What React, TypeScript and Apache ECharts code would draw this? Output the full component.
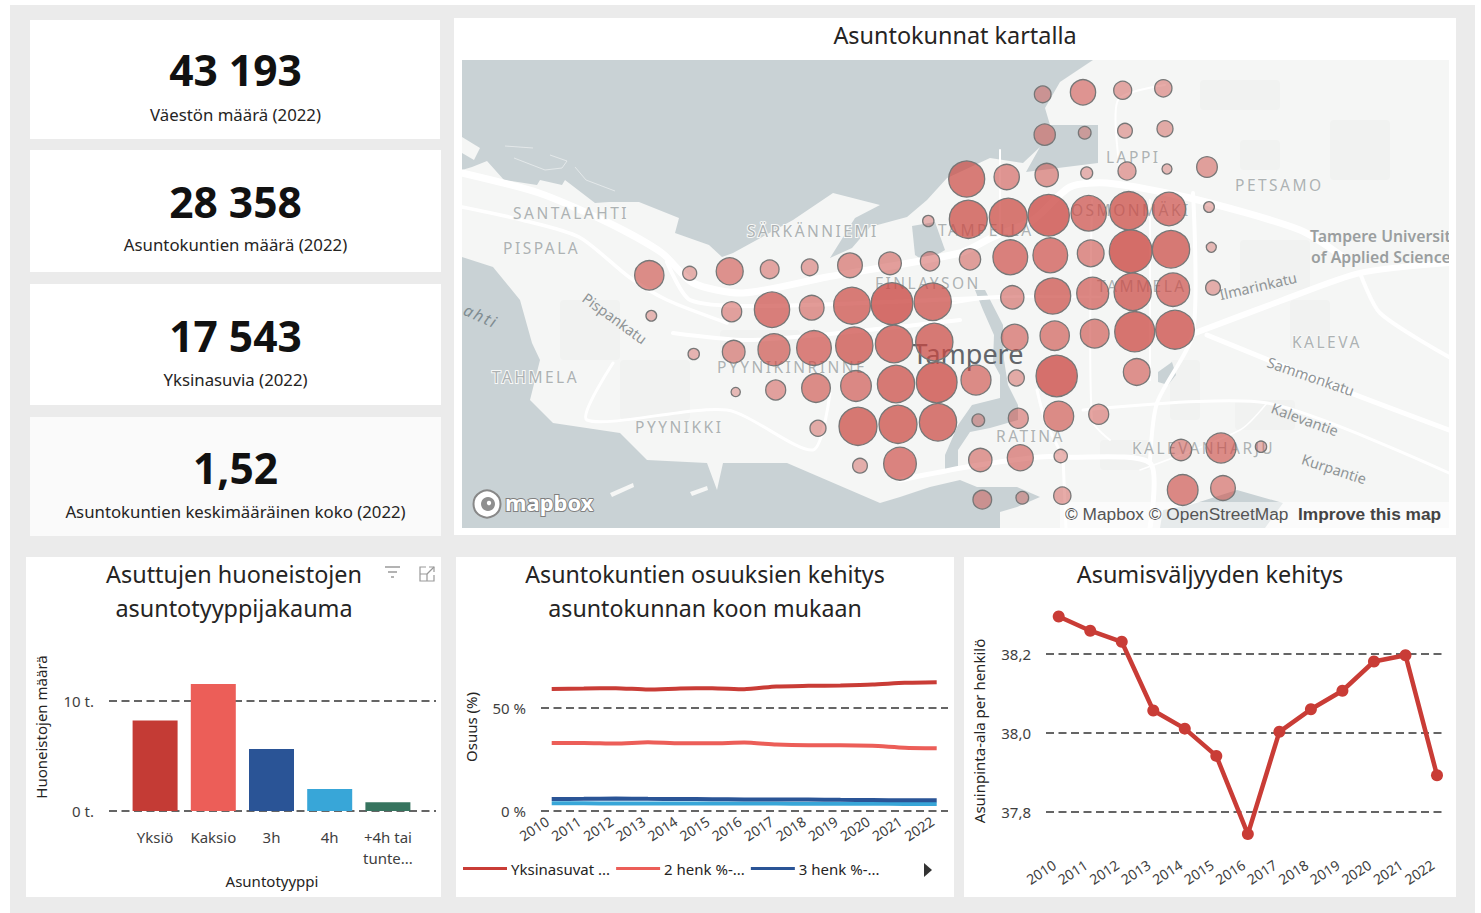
import React, { useEffect, useRef } from "react";
import * as echarts from "echarts";

const FONT = "'Noto Sans', sans-serif";

const kpiValues = ["43 193", "28 358", "17 543", "1,52"];
const kpiLabels = ["Väestön määrä (2022)", "Asuntokuntien määrä (2022)", "Yksinasuvia (2022)", "Asuntokuntien keskimääräinen koko (2022)"];

const apartmentTypes = ["Yksiö", "Kaksio", "3h", "4h", "+4h tai\ntunte..."];
const apartmentCounts = [8.2, 11.5, 5.6, 2.0, 0.8];
const apartmentColors = ["#c43b35", "#ec5e58", "#2a5496", "#38a6d8", "#37745f"];

const years = ["2010", "2011", "2012", "2013", "2014", "2015", "2016", "2017", "2018", "2019", "2020", "2021", "2022"];
const singleShare = [59.0, 59.2, 59.4, 58.7, 59.2, 59.4, 58.9, 60.2, 60.5, 60.7, 61.1, 62.0, 62.3];
const twoShare = [32.9, 32.9, 32.6, 33.2, 32.7, 32.7, 33.1, 32.1, 31.8, 31.8, 31.5, 30.6, 30.3];
const threeShare = [5.8, 5.9, 6.0, 5.9, 5.8, 5.7, 5.6, 5.5, 5.5, 5.4, 5.3, 5.2, 5.2];
const fourShare = [3.7, 3.7, 3.6, 3.6, 3.6, 3.6, 3.6, 3.6, 3.5, 3.5, 3.5, 3.4, 3.4];
const areaPerPerson = [38.295, 38.259, 38.231, 38.057, 38.011, 37.942, 37.744, 38.003, 38.06, 38.107, 38.181, 38.197, 37.893];

// Household bubbles on the map: [east, north, size]
const bubbles: number[][] = [
  [649.3, 275.3, 29.3], [689.7, 273.3, 14], [729.7, 271.3, 27], [769.7, 269.3, 18.7], [809.7, 267.3, 16.7], [850, 265.3, 24.7], [890, 263.3, 22.7], [930, 261.3, 19.3], [928.3, 221, 11.3],
  [651.3, 315.7, 10.7], [731.7, 311.7, 20], [772, 309.7, 35.3], [811.7, 307.7, 24.7], [852, 305.7, 36.7], [892, 303.7, 41.7], [932.7, 301.7, 37.3],
  [693.7, 354, 11.3], [733.7, 351.7, 22.7], [774, 349.7, 32], [814, 348, 34.7], [854.3, 345.7, 37.3], [894, 344, 37.3], [934.3, 342, 37.3],
  [735.7, 392, 9.3], [775.7, 390, 20], [816, 388, 28.7], [856, 386, 30.7], [896, 384, 37.3], [936.7, 382.3, 40.7],
  [818, 428.3, 16], [858, 426.3, 38], [898, 424.3, 38], [938, 422.3, 37.3], [860, 465.7, 14.7], [900, 463.7, 32.7],
  [1042.7, 94.3, 16.7], [1083, 92.3, 25.3], [1122.7, 90.3, 18], [1163.3, 88.3, 17.3],
  [1044.7, 134.7, 21.3], [1084.7, 132.7, 12.7], [1125, 130.7, 14.7], [1165, 128.7, 16],
  [966.7, 179, 36], [1006.7, 177, 25.3], [1046.7, 175, 23.3], [1086.7, 173, 12], [1127, 171, 18], [1167, 169, 10], [1207, 167, 20.7],
  [968.3, 219.3, 38], [1008.3, 217.3, 38], [1048.7, 215.3, 41.3], [1088.7, 213.3, 35.3], [1128.7, 210.7, 38], [1169, 209, 33.3], [1209, 207, 10.7],
  [970, 259.3, 21.3], [1010.3, 257.3, 34.7], [1050.3, 255.3, 34.7], [1090.7, 253.3, 26.7], [1130.7, 251.3, 42.7], [1171, 249.3, 37.3], [1211.3, 247.3, 10],
  [1012.3, 297.3, 23.3], [1052.7, 296, 36], [1092.7, 293.3, 32], [1132.7, 291.7, 37.3], [1173, 289.7, 33.3], [1213, 287.7, 14.7],
  [1014.7, 337.7, 26.7], [1054.7, 335.7, 29.3], [1094.7, 333.7, 28.7], [1134.7, 331.7, 40], [1175, 329.7, 38.7],
  [976, 380, 30], [1016.3, 378, 16], [1056.7, 376, 41.3], [1136.7, 372, 26.7],
  [978.3, 420.3, 12.7], [1018.3, 418.3, 20], [1058.7, 416.3, 30], [1098.7, 414.3, 20],
  [980.3, 460, 23.3], [1020.3, 457.7, 26], [1060.7, 456, 13.3], [1181, 450, 21.3], [1221, 448, 30], [1261, 446.7, 11.3],
  [982.3, 499.7, 18.7], [1022.3, 497.7, 12.7], [1062.3, 495.7, 17.3], [1182.7, 490, 30.7], [1223, 488, 24.7],
];

const districtLabels: [string, number, number][] = [
  ["SANTALAHTI", 513, 213], ["PISPALA", 503, 248], ["SÄRKÄNNIEMI", 747, 231], ["FINLAYSON", 875, 283], ["TAMPELLA", 938, 230],
  ["OSMONMÄKI", 1071, 210], ["TAMMELA", 1097, 286], ["LAPPI", 1106, 157], ["PETSAMO", 1235, 185], ["KALEVA", 1292, 342],
  ["TAHMELA", 492, 377], ["PYYNIKKI", 635, 427], ["PYYNIKINRINNE", 717, 367], ["RATINA", 996, 436], ["KALEVANHARJU", 1132, 448],
];
const streetLabels: [string, number, number, number][] = [
  ["Pispankatu", 615, 318, -36], ["Ilmarinkatu", 1258, 286, 13], ["Sammonkatu", 1311, 376, -19], ["Kalevantie", 1305, 419, -20], ["Kurpantie", 1334, 469, -18],
];

const LAND: number[][] = [
  [462, 170], [472, 167], [487, 161], [504, 180], [537, 185], [540, 180], [562, 185], [565, 180], [595, 203], [609, 202], [639, 202], [679, 218], [675, 233], [709, 245], [722, 257], [733, 253], [793, 220], [833, 193], [880, 205], [855, 218], [830, 258], [852, 248], [870, 227], [907, 217], [927, 200], [947, 178], [990, 158], [1023, 163], [1040, 147], [1026, 172], [1098, 163], [1098, 125], [1050, 125], [1045, 108], [1060, 82], [1093, 60],
  [1449, 60], [1449, 528], [1000, 528], [1000, 512], [1017, 507], [1040, 497], [1017, 487], [977, 487], [960, 480], [930, 487], [900, 497], [880, 503], [787, 463], [723, 463], [717, 490], [707, 463], [647, 460], [620, 433], [553, 423], [530, 400], [540, 360], [532, 343], [520, 300], [493, 267], [462, 257],
];
const ISLANDS: number[][][] = [
  [[462, 137], [480, 148], [474, 160], [462, 153]],
  [[610, 493], [633, 483], [634, 487], [612, 497]],
  [[690, 492], [707, 486], [708, 490], [692, 496]],
];
const WATER: number[][][] = [
  [[912, 226], [935, 222], [945, 250], [925, 262], [915, 255]],
  [[975, 290], [985, 290], [1003, 325], [1004, 360], [1008, 385], [1018, 405], [1018, 420], [990, 428], [970, 432], [958, 450], [958, 470], [945, 472], [945, 455], [958, 425], [972, 405], [1000, 398], [1000, 375], [993, 362], [994, 335], [983, 310]],
  [[1163, 510], [1190, 505], [1237, 490], [1283, 503], [1265, 528], [1160, 528]],
  [[1158, 372], [1172, 362], [1176, 375], [1168, 385], [1158, 382]],
];
const PALE_BLOCKS: number[][] = [
  [1240, 240, 70, 50], [1290, 300, 40, 50], [1235, 400, 60, 30], [1100, 440, 50, 30], [1170, 360, 30, 60], [560, 300, 60, 60], [620, 360, 70, 60], [1330, 120, 60, 60], [1240, 140, 40, 30], [1200, 80, 80, 30], [720, 330, 80, 30],
];
const ROADS: [number[][], number][] = [
  [[[462, 173], [539, 193], [609, 223], [662, 253], [693, 283], [743, 293], [827, 277], [960, 253], [993, 237], [1033, 220], [1070, 187], [1107, 183], [1190, 198], [1300, 230], [1343, 257]], 7],
  [[[1195, 333], [1283, 300], [1360, 273], [1449, 263]], 6],
  [[[1207, 335], [1343, 390], [1449, 430]], 5],
  [[[1360, 273], [1380, 313], [1449, 357]], 4],
  [[[462, 207], [522, 220], [579, 237], [629, 277], [667, 300], [727, 323]], 3.5],
  [[[673, 333], [753, 340], [960, 320]], 4],
  [[[613, 363], [587, 420], [727, 410], [813, 450], [830, 393]], 3],
  [[[900, 480], [967, 467], [1040, 457], [1063, 457], [1150, 463], [1150, 528]], 5],
  [[[1083, 410], [1267, 403], [1449, 473]], 3],
  [[[1193, 193], [1193, 333], [1157, 403], [1150, 460]], 4],
  [[[1120, 170], [1118, 100], [1165, 85]], 2],
  [[[667, 262], [690, 300], [760, 306], [1000, 297]], 4],
  [[[953, 303], [1000, 297], [1100, 297]], 2.5],
  [[[1037, 390], [1045, 420], [1062, 455]], 3],
  [[[1092, 200], [1092, 420], [1110, 440]], 2],
  [[[1150, 380], [1150, 200]], 2],
  [[[1063, 457], [1066, 528]], 3],
  [[[1267, 403], [1240, 430], [1140, 470]], 1.5],
  [[[1000, 150], [1000, 230]], 2],
];
const PIERS: number[][][] = [
  [[514, 158], [545, 170], [562, 168], [567, 161], [550, 155]],
  [[575, 167], [586, 180], [615, 191]],
  [[505, 146], [533, 148]],
];

const TEXT = "#252423";
const TICK = "#3f3f3f";
const DASH = [8, 4.5];
const MAP_WATER = "#c9d2d5";
const PAGE_GREY = "#ebebeb";

function txt(text: string, x: number, y: number, size: number, o: any = {}) {
  const { fill, align, weight, font, rotation, baseline, style } = o;
  return {
    type: "text", x, y, rotation: rotation ? (rotation * Math.PI) / 180 : 0, silent: true,
    style: { text, fill: fill || TEXT, font: `${weight || "normal"} ${size}px ${font || FONT}`, align: align || "center", verticalAlign: baseline || "middle", ...(style || {}) },
  };
}
function card(x0: number, y0: number, x1: number, y1: number, fill = "#fff") {
  return { type: "rect", silent: true, shape: { x: x0, y: y0, width: x1 - x0, height: y1 - y0 }, style: { fill } };
}
function hline(x0: number, y0: number, x1: number, y1: number, stroke: string, lineWidth: number) {
  return { type: "line", silent: true, shape: { x1: x0, y1: y0, x2: x1, y2: y1 }, style: { stroke, lineWidth } };
}

function buildGraphic() {
  const el: any[] = [];
  el.push(card(10, 5, 1475, 913, PAGE_GREY));
  const kpiCards = [[30, 20, 440, 139, 69, 114], [30, 150, 441, 272, 201, 244], [30, 284, 441, 405, 335, 379], [30, 417, 441, 536, 467, 511]];
  kpiCards.forEach((k, i) => {
    el.push(card(k[0], k[1], k[2], k[3], i === 3 ? "#fafafa" : "#fff"));
    el.push(txt(kpiValues[i], 235.5, k[4], 42.5, { weight: "bold", fill: "#111" }));
    el.push(txt(kpiLabels[i], 235.5, k[5], 16.8));
  });
  el.push(card(454, 18, 1456, 535));
  el.push(card(26, 557, 441, 897));
  el.push(card(456, 557, 954, 897));
  el.push(card(964, 557, 1456, 897));

  // map base
  el.push(card(462, 60, 1449, 528, MAP_WATER));
  el.push({ type: "polygon", silent: true, shape: { points: LAND }, style: { fill: "#f5f6f5" } });
  ISLANDS.forEach((p) => el.push({ type: "polygon", silent: true, shape: { points: p }, style: { fill: "#f5f6f5" } }));
  PIERS.forEach((p) => el.push({ type: "polyline", silent: true, shape: { points: p }, style: { stroke: "rgba(245,247,247,0.6)", lineWidth: 1, fill: "none" } }));
  PALE_BLOCKS.forEach((b) => el.push({ type: "rect", silent: true, shape: { x: b[0], y: b[1], width: b[2], height: b[3], r: 4 }, style: { fill: "#f1f2f1" } }));
  WATER.forEach((p) => el.push({ type: "polygon", silent: true, shape: { points: p }, style: { fill: MAP_WATER } }));
  ROADS.forEach(([pts, w]) => el.push({ type: "polyline", silent: true, shape: { points: pts, smooth: 0.25 }, style: { stroke: "#fff", lineWidth: w, fill: "none", lineCap: "round" } }));
  districtLabels.forEach(([t, x, y]) => el.push(txt(t, x, y, 15.5, { align: "left", fill: "#adb2b3", style: { stroke: "#f7f8f7", lineWidth: 2 } })));
  streetLabels.forEach(([t, x, y, r]) => el.push(txt(t, x, y, 14.5, { fill: "#8f9496", rotation: r })));
  el.push(txt("ahti", 481, 316, 16, { fill: "#7f8c91", rotation: -24, weight: "italic" }));
  el.push(txt("Tampere", 968, 353, 27, { fill: "#62656a" }));
  el.push(txt("Tampere University", 1310, 236, 15.8, { align: "left", fill: "#9a9e9f", weight: 600 }));
  el.push(txt("of Applied Sciences", 1311, 257, 15.8, { align: "left", fill: "#9a9e9f", weight: 600 }));
  el.push({ type: "rect", silent: true, shape: { x: 1060, y: 502, width: 389, height: 26 }, style: { fill: "rgba(255,255,255,0.55)" } });
  el.push(txt("© Mapbox © OpenStreetMap", 1065, 514, 17.3, { align: "left", fill: "#555", font: "'Liberation Sans'" }));
  el.push(txt("Improve this map", 1298, 514, 17.3, { align: "left", fill: "#444", weight: "bold", font: "'Liberation Sans'" }));
  el.push({ type: "circle", silent: true, shape: { cx: 487, cy: 504, r: 13.5 }, style: { fill: "#fff", stroke: "#888", lineWidth: 2 } });
  el.push({ type: "circle", silent: true, shape: { cx: 488, cy: 504, r: 7 }, style: { fill: "#8f8f8f" } });
  el.push({ type: "circle", silent: true, shape: { cx: 489, cy: 503, r: 2.2 }, style: { fill: "#fff" } });
  el.push({ type: "text", silent: true, x: 505, y: 502, style: { text: "mapbox", fill: "#fff", stroke: "#7f7f7f", lineWidth: 2, font: `bold 22px ${FONT}`, align: "left", verticalAlign: "middle" } });
  // edge covers for the map's clipped text
  el.push(card(1449, 60, 1456, 528));
  el.push(card(1456, 60, 1475, 528, PAGE_GREY));

  el.push(txt("Asuntokunnat kartalla", 955, 35, 23.4));
  el.push(txt("Asuttujen huoneistojen", 234, 573.5, 23.4));
  el.push(txt("asuntotyyppijakauma", 234, 607.5, 23.4));
  el.push(txt("Asuntokuntien osuuksien kehitys", 705, 573.5, 23.2));
  el.push(txt("asuntokunnan koon mukaan", 705, 607.5, 23.2));
  el.push(txt("Asumisväljyyden kehitys", 1210, 573.5, 23.4));

  // visual header icons
  el.push(hline(385, 567, 400, 567, "#8a8a8a", 1.3));
  el.push(hline(388, 572, 397, 572, "#8a8a8a", 1.3));
  el.push(hline(391, 577, 394, 577, "#8a8a8a", 1.3));
  el.push({ type: "polyline", silent: true, shape: { points: [[426, 567], [420, 567], [420, 581], [434, 581], [434, 575]] }, style: { stroke: "#999", lineWidth: 1.2, fill: "none" } });
  el.push({ type: "polyline", silent: true, shape: { points: [[420, 574], [427, 574], [427, 581]] }, style: { stroke: "#999", lineWidth: 1.2, fill: "none" } });
  el.push({ type: "polyline", silent: true, shape: { points: [[429, 567], [434, 567], [434, 572]] }, style: { stroke: "#999", lineWidth: 1.2, fill: "none" } });
  el.push(hline(427, 574, 434, 567, "#999", 1.2));

  el.push(txt("Huoneistojen määrä", 41, 727, 15, { rotation: 90 }));
  el.push(txt("Asuntotyyppi", 272, 881, 15));
  el.push(txt("Osuus (%)", 471, 727, 15, { rotation: 90 }));
  el.push(txt("Asuinpinta-ala per henkilö", 979, 731, 15, { rotation: 90 }));
  el.push({ type: "polygon", silent: true, shape: { points: [[924, 863], [932, 870], [924, 877]] }, style: { fill: "#333" } });
  return el;
}

function tickAxis(formatter: any, extra: any, bottomPad = 0) {
  return {
    type: "value", axisLine: { show: false }, axisTick: { show: false },
    axisLabel: { color: TICK, fontFamily: FONT, fontSize: 15, margin: 15, formatter, padding: [0, 0, bottomPad, 0] },
    splitLine: { show: true, lineStyle: { type: DASH, color: "#333", width: 1.6 } },
    ...extra,
  };
}
function hiddenY(min: number, max: number, gridIndex: number) {
  return { type: "value", gridIndex, min, max, show: false, splitLine: { show: false } };
}
function hiddenX(gridIndex: number) {
  return { type: "category", gridIndex, data: years, show: false, boundaryGap: false };
}
function yearAxis(gridIndex: number, margin: number) {
  return {
    type: "category", gridIndex, data: years, boundaryGap: false,
    axisLine: { show: false }, axisTick: { show: false },
    axisLabel: { interval: 0, rotate: 33, color: TICK, fontFamily: FONT, fontSize: 14, margin, padding: [0, 5, 0, 0], hideOverlap: false, showMinLabel: true, showMaxLabel: true },
  };
}
const abs = (l: number, t: number, r: number, b: number) => ({ left: l, top: t, width: r - l, height: b - t, containLabel: false });

function buildOption() {
  return {
    animation: false,
    textStyle: { fontFamily: FONT },
    graphic: { elements: buildGraphic() },
    legend: {
      left: 463, top: 861, itemWidth: 44, itemHeight: 3, itemGap: 6, padding: 0, icon: "rect",
      data: ["Yksinasuvat ...", "2 henk %-...", "3 henk %-..."],
      textStyle: { color: TEXT, fontFamily: FONT, fontSize: 15, padding: [0, 0, 0, -1] },
      selectedMode: false,
    },
    grid: [
      abs(462, 60, 1449, 528),
      abs(109, 700.5, 436, 811), abs(126, 678.4, 417, 811),
      abs(541, 707.7, 948, 811), abs(551.7, 660, 936.7, 811),
      abs(1046, 654, 1444, 812), abs(1058.7, 614.5, 1437, 851.5),
    ],
    xAxis: [
      { type: "value", gridIndex: 0, min: 462, max: 1449, show: false, splitLine: { show: false } },
      { type: "category", gridIndex: 1, data: apartmentTypes, show: false },
      { type: "category", gridIndex: 2, data: apartmentTypes, axisLine: { show: false }, axisTick: { show: false }, axisLabel: { interval: 0, color: TICK, fontFamily: FONT, fontSize: 15, margin: 15, lineHeight: 21 } },
      hiddenX(3),
      yearAxis(4, 6),
      hiddenX(5),
      yearAxis(6, 9),
    ],
    yAxis: [
      { type: "value", gridIndex: 0, min: 60, max: 528, inverse: true, show: false, splitLine: { show: false } },
      tickAxis((v: number) => `${v} t.`, { gridIndex: 1, min: 0, max: 10, interval: 10 }, 3),
      hiddenY(0, 12, 2),
      tickAxis((v: number) => `${v} %`, { gridIndex: 3, min: 0, max: 50, interval: 50 }, 4),
      hiddenY(0, 73, 4),
      tickAxis((v: number) => v.toFixed(1).replace(".", ","), { gridIndex: 5, min: 37.8, max: 38.2, interval: 0.2 }),
      hiddenY(37.7, 38.3, 6),
    ],
    series: [
      {
        type: "scatter", xAxisIndex: 0, yAxisIndex: 0, data: bubbles, clip: false, silent: true,
        symbolSize: (v: number[]) => v[2],
        itemStyle: {
          color: (p: any) => `rgba(203,72,66,${(0.36 + (0.42 * (p.value[2] - 10)) / 32).toFixed(2)})`,
          borderColor: "#777", borderWidth: 1.3, opacity: 1,
        },
      },
      {
        type: "bar", xAxisIndex: 2, yAxisIndex: 2, barWidth: 45, silent: true,
        data: apartmentCounts.map((value, i) => ({ value, itemStyle: { color: apartmentColors[i] } })),
      },
      ...([
        ["Yksinasuvat ...", singleShare, "#c93c36"],
        ["2 henk %-...", twoShare, "#ec5e58"],
        ["4 henk %-...", fourShare, "#38a6d8"],
        ["3 henk %-...", threeShare, "#2a5496"],
      ] as [string, number[], string][]).map(([name, data, color]) => ({
        type: "line", name, data, xAxisIndex: 4, yAxisIndex: 4, showSymbol: false, symbol: "none", smooth: 0.2, silent: true,
        lineStyle: { color, width: 4 }, itemStyle: { color },
      })),
      {
        type: "line", data: areaPerPerson, xAxisIndex: 6, yAxisIndex: 6, symbol: "circle", symbolSize: 12, showSymbol: true, silent: true, clip: false,
        lineStyle: { color: "#c93c36", width: 4.5 }, itemStyle: { color: "#c93c36" },
      },
    ],
  };
}

function applyLetterSpacing(root: HTMLElement) {
  const names = new Set(districtLabels.map((d) => d[0]));
  root.querySelectorAll("text").forEach((t) => {
    if (names.has(t.textContent || "")) t.setAttribute("letter-spacing", "2.5");
    if (t.textContent === "ahti") t.setAttribute("letter-spacing", "2");
  });
}

export default function App() {
  const ref = useRef<HTMLDivElement>(null);
  useEffect(() => {
    const chart = echarts.init(ref.current!, undefined, { renderer: "svg", width: 1481, height: 913 });
    chart.setOption(buildOption() as any);
    applyLetterSpacing(ref.current!);
    chart.on("finished", () => applyLetterSpacing(ref.current!));
    return () => chart.dispose();
  }, []);
  return <div ref={ref} style={{ position: "fixed", left: 0, top: 0, width: 1481, height: 913, background: "#fff" }} />;
}
